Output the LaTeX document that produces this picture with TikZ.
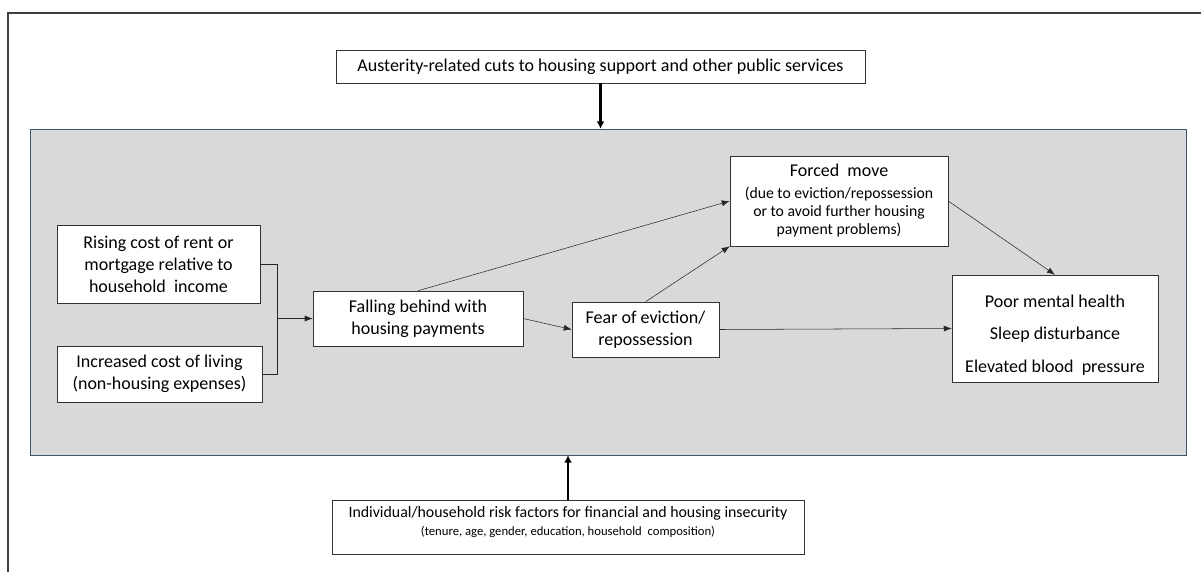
\documentclass[tikz,border=0pt]{standalone}
\usepackage{fontspec}
\setmainfont{Carlito}
\usepackage{xcolor}
\usepackage{tikz}
\usetikzlibrary{arrows.meta}

\definecolor{contextgray}{HTML}{D9D9D9}
\definecolor{contextline}{HTML}{44546A}
\newcommand{\notefont}{\fontsize{11.8}{13.5}\selectfont}
\newcommand{\riskfont}{\fontsize{9.5}{11}\selectfont}

\begin{document}
\begin{tikzpicture}[x=0.75pt,y=-0.75pt]
\tikzstyle{box} = [draw=black!80, fill=white, align=center, inner sep=2pt, font=\fontsize{13.5}{16.5}\selectfont]
\tikzstyle{size} = [minimum width=#1*0.75pt]
\tikzstyle{tall} = [minimum height=#1*0.75pt]
\tikzstyle{link} = [draw=black!85, -{Latex[length=6pt,width=4.5pt]}]
\tikzstyle{push} = [draw=black, line width=2.2pt, -{Latex[length=5.5pt,width=6pt]}]
%
\useasboundingbox (0,0) rectangle (1201,572);
\draw[black!75, line width=0.9pt] (8,572) -- (8,13) -- (1201,13);

% shaded context
\node[draw=contextline, fill=contextgray, size=1156, tall=326, inner sep=0pt] (context) at (608,292) {};

	\node[box, size=529, tall=33] (austerity) at (600.5,66.5)
		{Austerity-related cuts to housing support and other public services};
	\node[box, size=472, tall=54, font=\fontsize{11.9}{14.5}\selectfont, text depth=9pt] (risk) at (568,527)
		{Individual/household risk factors for financial and housing insecurity\\[-1pt]
		\riskfont (tenure, age, gender, education, household\ \ composition)};

	\node[box, size=203, tall=78] (rising) at (158.5,264)
		{Rising cost of rent or\\ mortgage relative to\\ household\ \ income};
	\node[box, size=205, tall=56] (living) at (159.5,374)
		{Increased cost of living\\ (non-housing expenses)};
	\node[box, size=210, tall=55] (falling) at (418,318.5)
		{Falling behind with\\ housing payments};
	\node[box, size=147, tall=55] (fear) at (645.5,329.5)
		{Fear of eviction/\\ repossession};
	\node[box, size=218, tall=90] (forced) at (839,201)
		{Forced\ \ move\\
		\notefont (due to eviction/repossession\\[-3pt] \notefont or to avoid further housing\\[-3pt] \notefont payment problems)};
	\node[box, size=206, tall=107] (health) at (1055,328.5)
		{\rule{0pt}{19pt}Poor mental health\\[8pt] Sleep disturbance\\[8pt] Elevated blood\ \ pressure};

% bracket joining the two cost boxes
\coordinate (join) at (277,318.5);
\draw[black!85] (rising.east) -- (join |- rising.east) -- (join |- living.east) -- (living.east);
\draw[link] (join) -- (falling.west);

\draw[link] (falling.north) -- (forced.west);
\draw[link] (falling.east) -- (fear.west);
\draw[link] (fear.north) -- (forced.south west);
\draw[link] (fear.east) -- (health.west);
\draw[link] (forced.east) -- (health.north);

\draw[push] (austerity.south) -- (austerity.south |- context.north);
\draw[push] (risk.north) -- (risk.north |- context.south);
\end{tikzpicture}
\end{document}
